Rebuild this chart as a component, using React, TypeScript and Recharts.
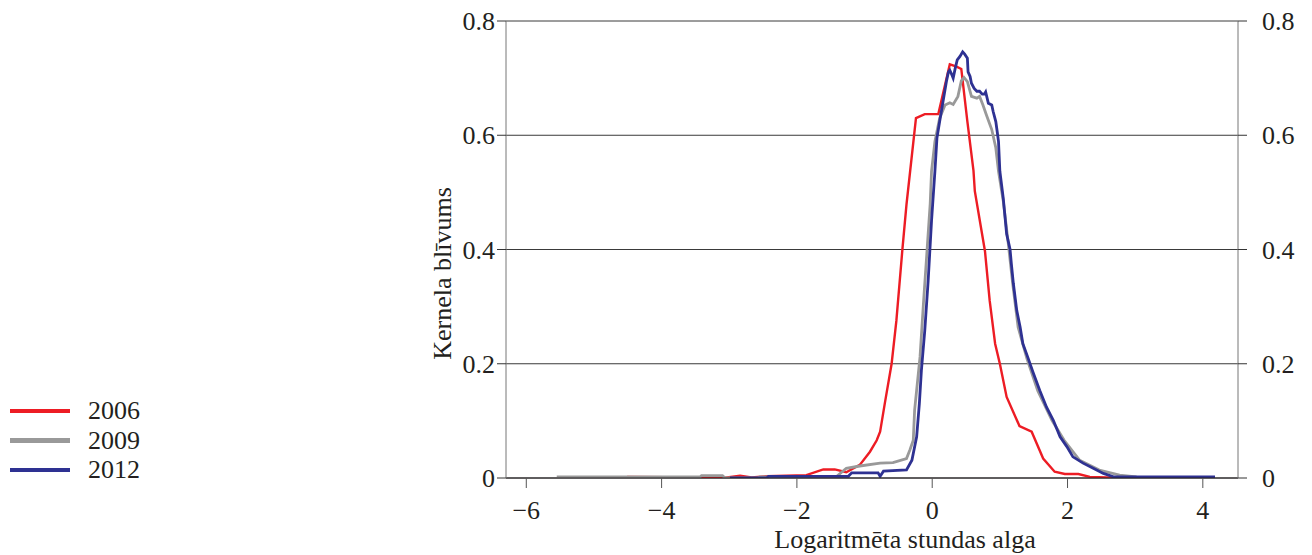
import { LineChart, Line, XAxis, YAxis, CartesianGrid } from 'recharts';

// kernel density curves, [log hourly wage, density]
const s2006: [number, number][] = [
    [-4.51, 0.002], [-3.36, 0.001], [-3.09, 0.0], [-2.84, 0.004], [-2.67, 0.001], [-2.45, 0.003],
    [-1.86, 0.005], [-1.61, 0.015], [-1.44, 0.015], [-1.27, 0.01], [-1.07, 0.023], [-0.92, 0.046],
    [-0.82, 0.066], [-0.77, 0.081], [-0.7, 0.131], [-0.6, 0.2], [-0.53, 0.275], [-0.44, 0.401],
    [-0.38, 0.479], [-0.24, 0.63], [-0.11, 0.637], [0.09, 0.637], [0.26, 0.724], [0.36, 0.72],
    [0.43, 0.716], [0.52, 0.624], [0.61, 0.538], [0.63, 0.502], [0.78, 0.397], [0.85, 0.31],
    [0.93, 0.235], [1.0, 0.2], [1.1, 0.142], [1.29, 0.091], [1.47, 0.081], [1.64, 0.034],
    [1.81, 0.011], [1.96, 0.007], [2.16, 0.007], [2.33, 0.002], [2.58, 0.001], [2.87, 0.0],
];

const s2009: [number, number][] = [
    [-5.55, 0.002], [-3.43, 0.002], [-3.41, 0.004], [-3.1, 0.004], [-3.06, 0.0], [-2.58, 0.0],
    [-2.55, 0.002], [-1.41, 0.003], [-1.27, 0.017], [-1.07, 0.021], [-0.77, 0.026], [-0.58, 0.027],
    [-0.38, 0.034], [-0.33, 0.049], [-0.28, 0.066], [-0.26, 0.119], [-0.18, 0.212], [-0.13, 0.305],
    [-0.08, 0.392], [-0.03, 0.48], [-0.01, 0.537], [0.04, 0.589], [0.11, 0.63], [0.19, 0.653],
    [0.26, 0.657], [0.31, 0.654], [0.38, 0.668], [0.43, 0.695], [0.47, 0.701], [0.52, 0.694],
    [0.58, 0.668], [0.66, 0.665], [0.7, 0.668], [0.75, 0.653], [0.8, 0.636], [0.88, 0.61],
    [0.94, 0.578], [0.98, 0.537], [1.05, 0.485], [1.12, 0.415], [1.19, 0.34], [1.27, 0.264],
    [1.4, 0.209], [1.56, 0.153], [1.77, 0.101], [1.95, 0.066], [2.18, 0.031], [2.47, 0.014],
    [2.77, 0.005], [3.02, 0.002],
];

const s2012: [number, number][] = [
    [-2.99, 0.0], [-2.45, 0.0], [-2.42, 0.003], [-1.24, 0.003], [-1.19, 0.009], [-0.8, 0.009],
    [-0.77, 0.003], [-0.72, 0.012], [-0.38, 0.014], [-0.3, 0.031], [-0.23, 0.072], [-0.19, 0.13],
    [-0.16, 0.188], [-0.11, 0.258], [-0.06, 0.345], [-0.01, 0.45], [0.04, 0.537], [0.07, 0.595],
    [0.11, 0.624], [0.16, 0.659], [0.21, 0.694], [0.24, 0.711], [0.26, 0.714], [0.29, 0.706],
    [0.31, 0.7], [0.34, 0.717], [0.37, 0.732], [0.41, 0.738], [0.45, 0.746], [0.48, 0.742],
    [0.52, 0.735], [0.53, 0.711], [0.56, 0.703], [0.58, 0.691], [0.62, 0.682], [0.66, 0.677],
    [0.7, 0.677], [0.74, 0.672], [0.77, 0.672], [0.79, 0.676], [0.83, 0.656], [0.88, 0.653],
    [0.9, 0.642], [0.94, 0.624], [0.96, 0.607], [0.98, 0.589], [1.0, 0.537], [1.05, 0.49],
    [1.1, 0.427], [1.15, 0.401], [1.17, 0.375], [1.2, 0.34], [1.25, 0.293], [1.3, 0.264],
    [1.34, 0.235], [1.42, 0.209], [1.49, 0.185], [1.59, 0.153], [1.69, 0.124], [1.79, 0.101],
    [1.89, 0.072], [1.99, 0.055], [2.08, 0.037], [2.23, 0.026], [2.38, 0.017], [2.53, 0.008],
    [2.68, 0.002], [2.97, 0.002], [4.18, 0.002],
];

const xTicks = [-6, -4, -2, 0, 2, 4];
const yTicks = [0, 0.2, 0.4, 0.6, 0.8];

// both y axes share the same scale; the later series hang on the right one so it gets ticks
const series = [
    { name: '2006', points: s2006, color: '#ed1c24', width: 2.4, axis: 'left' },
    { name: '2009', points: s2009, color: '#999999', width: 2.8, axis: 'right' },
    { name: '2012', points: s2012, color: '#2e3192', width: 2.8, axis: 'right' },
];

const FONT = '"Liberation Serif", "Times New Roman", Times, serif';
const TEXT = '#231f20';
const FS = 26;

const toRows = (pts: [number, number][]) => pts.map(([x, y]) => ({ x, y }));
const fmtX = (v: number) => (v < 0 ? `\u2212${-v}` : `${v}`);
const fmtY = (v: number) => (v === 0 ? '0' : v.toFixed(1));

const tickStyle = { fill: TEXT, fontSize: FS, fontFamily: FONT };

export default function App() {
    return (
        <div style={{ position: 'absolute', left: 0, top: 0, width: 1312, height: 555, background: '#fff', fontFamily: FONT }}>
            <LineChart width={1312} height={555} margin={{ top: 21, right: 0, bottom: 0, left: 0 }}>
                <CartesianGrid yAxisId="left" vertical={false} stroke="#3a3a3a" />
                <XAxis
                    type="number"
                    dataKey="x"
                    domain={[-6.3, 4.52]}
                    ticks={xTicks}
                    tickFormatter={fmtX}
                    allowDataOverflow
                    height={77}
                    tick={tickStyle}
                    tickSize={10}
                    tickMargin={13}
                    stroke="#231f20"
                    tickLine={{ stroke: '#555' }}
                    label={{
                        content: ({ viewBox }: any) => (
                            <text
                                x={viewBox.x + viewBox.width / 2 + 33}
                                y={viewBox.y + 70}
                                textAnchor="middle"
                                fill={TEXT}
                                fontSize={FS}
                                fontFamily={FONT}
                            >
                                Logaritmēta stundas alga
                            </text>
                        ),
                    }}
                />
                <YAxis
                    yAxisId="left"
                    orientation="left"
                    type="number"
                    domain={[0, 0.8]}
                    ticks={yTicks}
                    tickFormatter={fmtY}
                    allowDataOverflow
                    width={506}
                    tick={tickStyle}
                    tickSize={9}
                    tickMargin={2}
                    stroke="#777"
                    tickLine={{ stroke: '#333' }}
                    label={{
                        content: ({ viewBox }: any) => {
                            const cx = viewBox.x + viewBox.width - 64;
                            const cy = viewBox.y + viewBox.height / 2 + 24;
                            return (
                                <text
                                    x={cx}
                                    y={cy}
                                    transform={`rotate(-90 ${cx} ${cy})`}
                                    textAnchor="middle"
                                    dominantBaseline="central"
                                    fill={TEXT}
                                    fontSize={FS}
                                    fontFamily={FONT}
                                >
                                    Kernela blīvums
                                </text>
                            );
                        },
                    }}
                />
                <YAxis
                    yAxisId="right"
                    orientation="right"
                    type="number"
                    domain={[0, 0.8]}
                    ticks={yTicks}
                    tickFormatter={fmtY}
                    allowDataOverflow
                    width={74}
                    tick={tickStyle}
                    tickSize={9}
                    tickMargin={15}
                    stroke="#777"
                    tickLine={{ stroke: '#333' }}
                />
                {series.map(s => (
                    <Line
                        key={s.name}
                        yAxisId={s.axis}
                        data={toRows(s.points)}
                        dataKey="y"
                        name={s.name}
                        type="linear"
                        stroke={s.color}
                        strokeWidth={s.width}
                        dot={false}
                        activeDot={false}
                        isAnimationActive={false}
                    />
                ))}
            </LineChart>
            <div style={{ position: 'absolute', left: 10, top: 396 }}>
                {series.map(s => (
                    <div key={s.name} style={{ display: 'flex', alignItems: 'center', height: 29.5 }}>
                        <div style={{ width: 60, height: 4.5, background: s.color }} />
                        <span style={{ marginLeft: 18, fontSize: FS, color: TEXT, lineHeight: '29px' }}>{s.name}</span>
                    </div>
                ))}
            </div>
        </div>
    );
}
